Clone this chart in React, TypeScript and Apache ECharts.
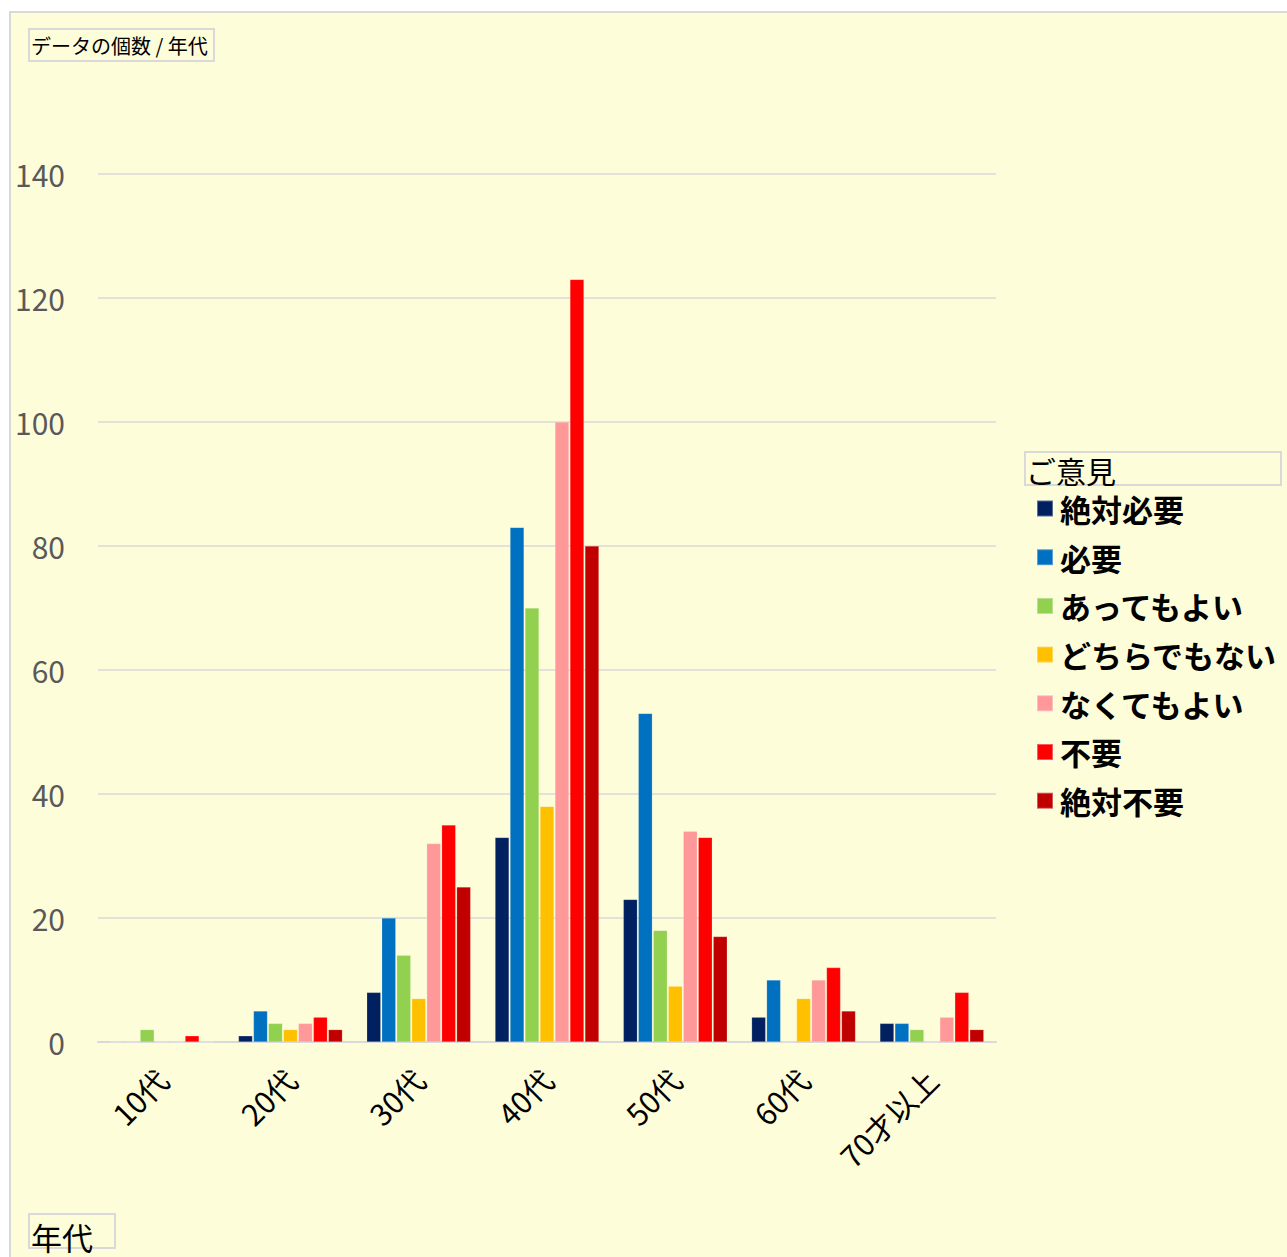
import React, { useEffect, useRef } from "react";
import * as echarts from "echarts";

const categories = ["10代", "20代", "30代", "40代", "50代", "60代", "70才以上"];
const seriesNames = ["絶対必要", "必要", "あってもよい", "どちらでもない", "なくてもよい", "不要", "絶対不要"];
const colors = ["#002060", "#0070C0", "#92D050", "#FFC000", "#FF9999", "#FF0000", "#C00000"];
const v絶対必要 = [0, 1, 8, 33, 23, 4, 3];
const v必要 = [0, 5, 20, 83, 53, 10, 3];
const vあってもよい = [2, 3, 14, 70, 18, 0, 2];
const vどちらでもない = [0, 2, 7, 38, 9, 7, 0];
const vなくてもよい = [0, 3, 32, 100, 34, 10, 4];
const v不要 = [1, 4, 35, 123, 33, 12, 8];
const v絶対不要 = [0, 2, 25, 80, 17, 5, 2];
const seriesValues = [v絶対必要, v必要, vあってもよい, vどちらでもない, vなくてもよい, v不要, v絶対不要];
const yTicks = { min: 0, max: 140, interval: 20 };

const FONT = "'Noto Sans CJK JP', 'Noto Sans', sans-serif";

export default function App() {
  const ref = useRef<HTMLDivElement>(null);
  useEffect(() => {
    if (!ref.current) return;
    const chart = echarts.init(ref.current, null, { renderer: "svg" });
    chart.setOption({
      animation: false,
      backgroundColor: "#ffffff",
      textStyle: { fontFamily: FONT },
      graphic: [
        {
          type: "rect",
          z: -10,
          silent: true,
          shape: { x: 10, y: 12, width: 1290, height: 1260 },
          style: { fill: "#FDFDD9", stroke: "#d9d9d9", lineWidth: 2 },
        },
        {
          type: "rect",
          shape: { x: 29, y: 29, width: 185, height: 32 },
          style: { fill: "transparent", stroke: "#d9d9d9", lineWidth: 2 },
        },
        {
          type: "text",
          x: 31,
          y: 45,
          style: { text: "データの個数 / 年代", fontSize: 20, fontFamily: FONT, fill: "#000", verticalAlign: "middle" },
        },
        {
          type: "rect",
          shape: { x: 29, y: 1214, width: 86, height: 34 },
          style: { fill: "transparent", stroke: "#d9d9d9", lineWidth: 2 },
        },
        {
          type: "text",
          x: 31,
          y: 1236,
          style: { text: "年代", fontSize: 31, fontFamily: FONT, fill: "#000", verticalAlign: "middle" },
        },
        {
          type: "rect",
          shape: { x: 1025, y: 452, width: 256, height: 33 },
          style: { fill: "transparent", stroke: "#d9d9d9", lineWidth: 2 },
        },
        {
          type: "text",
          x: 1026,
          y: 470,
          style: { text: "ご意見", fontSize: 30, fontFamily: FONT, fill: "#000", verticalAlign: "middle" },
        },
      ],
      legend: {
        orient: "vertical",
        left: 1031,
        top: 488,
        itemWidth: 16,
        itemHeight: 16,
        itemGap: 17.7,
        icon: "rect",
        data: seriesNames,
        textStyle: { fontSize: 31, fontWeight: "bold", color: "#000", fontFamily: FONT, padding: [0, 0, 0, 2] },
      },
      grid: { left: 98, right: 291, top: 174, bottom: 215, containLabel: false },
      xAxis: {
        type: "category",
        data: categories,
        axisLine: { show: true, lineStyle: { color: "#d9d9d9", width: 2 } },
        axisTick: { show: false },
        axisLabel: {
          rotate: 45,
          fontSize: 30,
          color: "#000",
          fontFamily: FONT,
          margin: 32,
          interval: 0,
        },
      },
      yAxis: {
        type: "value",
        min: yTicks.min,
        max: yTicks.max,
        interval: yTicks.interval,
        axisLine: { show: false },
        axisTick: { show: false },
        splitLine: { lineStyle: { color: "#d9d9d9", width: 1.5 } },
        axisLabel: { fontSize: 30, color: "#595959", fontFamily: FONT, margin: 33 },
      },
      series: seriesNames.map((name, i) => ({
        name,
        type: "bar",
        data: seriesValues[i],
        barWidth: 14,
        barGap: "7%",
        itemStyle: { color: colors[i], borderColor: "rgba(255,255,255,0.35)", borderWidth: 0.5 },
      })),
    });
    return () => chart.dispose();
  }, []);
  return (
    <div
      ref={ref}
      style={{ position: "absolute", left: 0, top: 0, width: 1287, height: 1257 }}
    />
  );
}
